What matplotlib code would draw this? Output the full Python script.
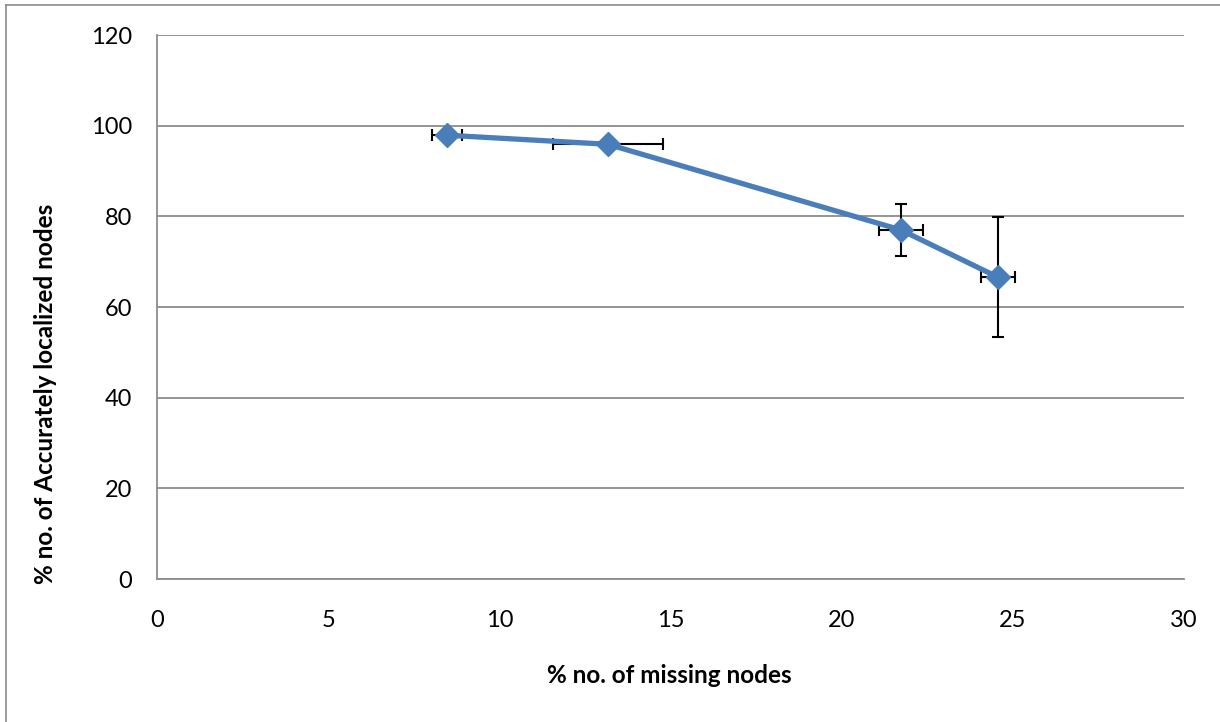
import matplotlib.pyplot as plt
from matplotlib.lines import Line2D

# percentage of missing nodes vs accurately localized nodes
missing = [8.47, 13.17, 21.73, 24.56]
localized = [97.9, 95.9, 77.0, 66.6]
missing_err = [0.45, 1.6, 0.65, 0.5]
localized_err = [0.8, 0.8, 5.8, 13.3]

xticks = [0, 5, 10, 15, 20, 25, 30]
yticks = [0, 20, 40, 60, 80, 100, 120]

plt.rcParams['font.family'] = ['Lato', 'DejaVu Sans']

fig = plt.figure(figsize=(12.2, 7.22), dpi=100)
ax = fig.add_axes([0.1287, 0.198, 0.8418, 0.7535])

ax.errorbar(missing, localized, xerr=missing_err, yerr=localized_err,
            fmt='none', ecolor='black', elinewidth=1.5, capsize=4,
            capthick=1.5, zorder=3)
ax.plot(missing, localized, color='#4A7EBB', linewidth=3.8, marker='D',
        markersize=12, markerfacecolor='#4A7EBB', markeredgecolor='#4A7EBB',
        zorder=4)

ax.set_xlim(0, 30)
ax.set_ylim(0, 120)
ax.set_xticks(xticks)
ax.set_yticks(yticks)
ax.tick_params(axis='both', length=0, labelsize=17)
ax.tick_params(axis='y', pad=18)
ax.tick_params(axis='x', pad=22)

ax.yaxis.grid(True, color='#8C8C8C', linewidth=1.3)
ax.set_axisbelow(True)
for side in ['top', 'right']:
    ax.spines[side].set_visible(False)
for side in ['left', 'bottom']:
    ax.spines[side].set_color('#8C8C8C')
    ax.spines[side].set_linewidth(1.3)

# axis titles placed in figure coordinates
fig.text(0.549, 0.064, '% no. of missing nodes', fontsize=17.5,
         fontweight='bold', ha='center', va='center')
fig.text(0.037, 0.455, '% no. of Accurately localized nodes', fontsize=17.5,
         fontweight='bold', ha='center', va='center', rotation=90)

# chart frame along the top and left edges
fig.add_artist(Line2D([0.005, 1.0], [0.993, 0.993], color='#8C8C8C', linewidth=1.2))
fig.add_artist(Line2D([0.005, 0.005], [0.0, 0.993], color='#8C8C8C', linewidth=1.2))

fig.savefig('out.png', dpi=100)
